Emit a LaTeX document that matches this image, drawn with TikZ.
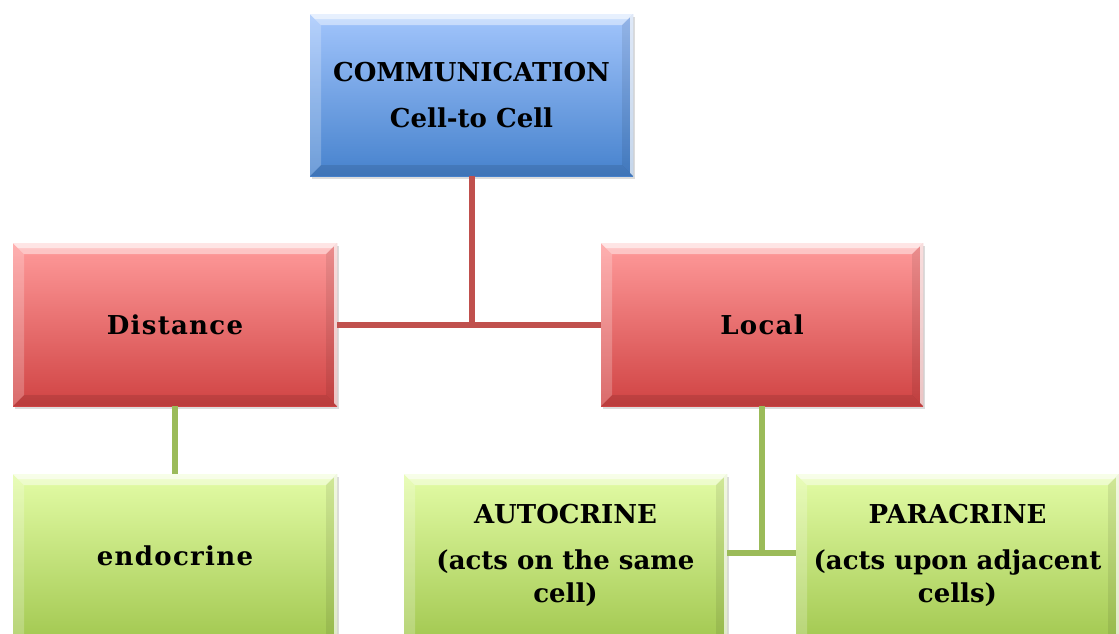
\documentclass[tikz,border=0pt]{standalone}
\usepackage{fontspec}
\setmainfont{DejaVu Serif}
\usetikzlibrary{shadows}

\definecolor{blueTop}{HTML}{A2C5FC}
\definecolor{blueBot}{HTML}{4682CD}
\definecolor{redTop}{HTML}{FF9B9B}
\definecolor{redBot}{HTML}{D04343}
\definecolor{greenTop}{HTML}{E3FCA6}
\definecolor{greenBot}{HTML}{96BE40}
\definecolor{redLink}{HTML}{C0504D}
\definecolor{greenLink}{HTML}{9BBB59}

\newfontfamily\spacedbold[LetterSpace=5]{DejaVu Serif}

\tikzset{
  bevel/.style={path picture={
    \coordinate (bnw) at (path picture bounding box.north west);
    \coordinate (bne) at (path picture bounding box.north east);
    \coordinate (bsw) at (path picture bounding box.south west);
    \coordinate (bse) at (path picture bounding box.south east);
    % top highlight
    \fill[white,opacity=.45] (bnw) -- (bne) -- ([xshift=-11pt,yshift=-11pt]bne)
      -- ([xshift=11pt,yshift=-11pt]bnw) -- cycle;
    \fill[white,opacity=.55] (bnw) -- (bne) -- ([xshift=-5pt,yshift=-5pt]bne)
      -- ([xshift=5pt,yshift=-5pt]bnw) -- cycle;
    % left highlight
    \fill[white,opacity=.22] (bnw) -- ([xshift=11pt,yshift=-11pt]bnw)
      -- ([xshift=11pt,yshift=11pt]bsw) -- (bsw) -- cycle;
    % right edge
    \fill[black,opacity=.08] (bne) -- ([xshift=-11pt,yshift=-11pt]bne)
      -- ([xshift=-11pt,yshift=11pt]bse) -- (bse) -- cycle;
    \fill[white,opacity=.7] (bne) -- ([xshift=-3pt,yshift=-3pt]bne)
      -- ([xshift=-3pt,yshift=3pt]bse) -- (bse) -- cycle;
    % bottom shade
    \fill[black,opacity=.1] (bsw) -- ([xshift=11pt,yshift=11pt]bsw)
      -- ([xshift=-11pt,yshift=11pt]bse) -- (bse) -- cycle;
  }},
  boxtext/.style={align=center, inner sep=0pt,
    font=\fontsize{26}{33}\selectfont\bfseries},
  spacedtext/.style={font=\fontsize{26}{33}\spacedbold\bfseries},
  box/.style={rectangle, inner sep=0pt, boxtext,
    drop shadow={opacity=.28, shadow xshift=2pt, shadow yshift=-3pt},
    bevel},
  bluebox/.style={box, top color=blueTop, bottom color=blueBot},
  redbox/.style={box, top color=redTop, bottom color=redBot},
  greenbox/.style={box, top color=greenTop, bottom color=greenBot},
  redline/.style={draw=redLink, line width=6pt},
  greenline/.style={draw=greenLink, line width=6pt},
}

\begin{document}
\begin{tikzpicture}[x=1pt,y=-1pt]
\useasboundingbox (0,0) rectangle (1119,633);
\clip (0,0) rectangle (1119,633);

% boxes
\node[bluebox, minimum width=323pt, minimum height=162pt] (comm) at (471.5,95)
  {COMMUNICATION\\[13pt]Cell-to Cell};
\node[redbox, spacedtext, minimum width=324pt, minimum height=163pt]
  (dist) at (175,324.5) {Distance};
\node[redbox, spacedtext, minimum width=322pt, minimum height=163pt]
  (local) at (762,324.5) {Local};
% the lower row runs off the bottom edge
\node[greenbox, minimum width=324pt, minimum height=200pt] (endo) at (175,574) {};
\node[greenbox, minimum width=323pt, minimum height=200pt] (auto) at (565.5,574) {};
\node[greenbox, minimum width=323pt, minimum height=200pt] (para) at (957.5,574) {};
\node[boxtext, spacedtext] (endo-text) at (175,555.5) {endocrine};
\node[boxtext] (auto-text) at (565.5,555.5) {AUTOCRINE\\[13pt](acts on the same\\cell)};
\node[boxtext] (para-text) at (957.5,555.5) {PARACRINE\\[13pt](acts upon adjacent\\cells)};

% connectors
\coordinate (greenjoin) at (local.south |- 0,553);
\path[redline] (comm.south) -- (comm.south |- dist.east);
\path[redline] (dist.east) -- (local.west);
\path[greenline] (dist.south) -- (endo.north);
\path[greenline] (local.south) -- (greenjoin);
\path[greenline] (auto.east |- greenjoin) -- (para.west |- greenjoin);

\end{tikzpicture}
\end{document}
